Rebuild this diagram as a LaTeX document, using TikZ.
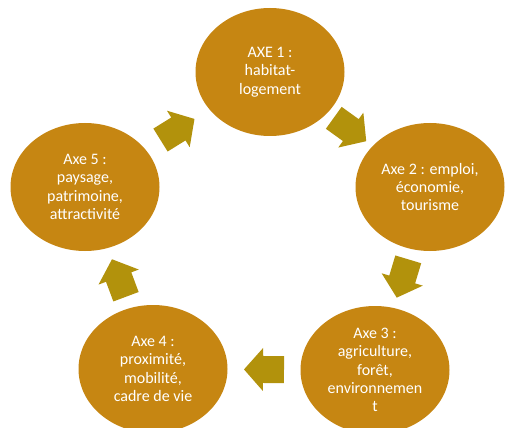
\documentclass[tikz,border=0pt]{standalone}
\usepackage{fontspec}
\setmainfont{Carlito}
\usetikzlibrary{calc}
\definecolor{axefill}{RGB}{198,134,18}
\definecolor{arrowfill}{RGB}{178,146,12}
\tikzset{
  axe/.style={ellipse, fill=axefill, minimum width=149pt, minimum height=128pt,
    inner sep=0pt, text=white, align=center, font=\fontsize{16}{18.4}\selectfont},
  cyclearrow/.pic={\fill[arrowfill] (-20,-13.5) -- (1,-13.5) -- (1,-21.5) -- (20,0)
    -- (1,21.5) -- (1,13.5) -- (-20,13.5) -- cycle;}
}
\usetikzlibrary{shapes.geometric}
\begin{document}
\begin{tikzpicture}[x=1pt,y=-1pt]
\useasboundingbox (0,0) rectangle (507,428);
\node[axe] (n1) at (270,72) {AXE 1 :\\habitat-\\logement};
\node[axe] (n2) at (430,187) {Axe 2 : emploi,\\économie,\\tourisme};
\node[axe] (n3) at (375,370) {Axe 3 :\\agriculture,\\forêt,\\environnemen\\t};
\node[axe] (n4) at (153,369) {Axe 4 :\\proximité,\\mobilité,\\cadre de vie};
\node[axe] (n5) at (85,187) {Axe 5 :\\paysage,\\patrimoine,\\attractivité};
\foreach \a/\b in {n5/n1,n1/n2,n2/n3,n3/n4,n4/n5}{
  \path let \p1=($(\b)-(\a)$), \n1={atan2(\y1,\x1)} in
    ($(\a)!0.5!(\b)$) pic[rotate=\n1] {cyclearrow};
}
\end{tikzpicture}
\end{document}
